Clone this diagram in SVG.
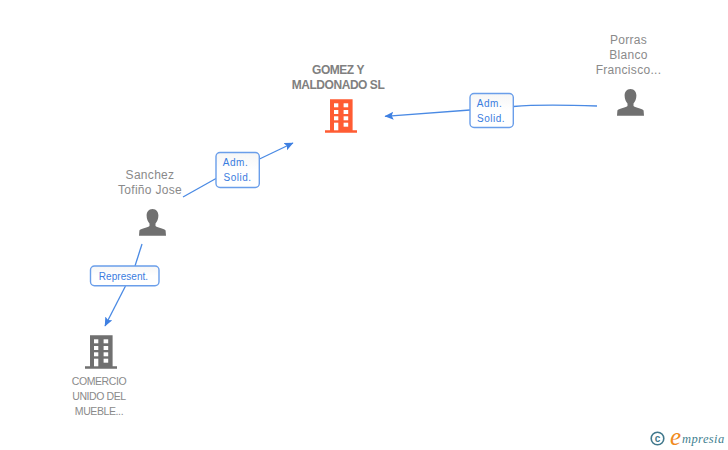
<svg xmlns="http://www.w3.org/2000/svg" width="728" height="450" viewBox="0 0 728 450">
<style>
text{font-family:"Liberation Sans",Arial,sans-serif}
.n{font-size:12px;fill:#8a8a8a;text-anchor:middle;letter-spacing:.3px}
.c{font-size:10.5px;fill:#8a8a8a;text-anchor:middle;letter-spacing:-.4px}
.t{font-size:12px;font-weight:bold;fill:#808080;text-anchor:middle;letter-spacing:-.45px}
.l{font-size:10px;fill:#3a7ce0;text-anchor:middle;letter-spacing:.5px}
.box{fill:url(#g);stroke:#6a9eea;stroke-width:1.4}
.ln{fill:none;stroke:#4a8ae4;stroke-width:1.3}
.p{fill:#707070}
.w{fill:#fff}
</style>
<defs>
<linearGradient id="g" x1="0" y1="0" x2="0" y2="1"><stop offset="0" stop-color="#f6f6f6"/><stop offset=".5" stop-color="#fff"/></linearGradient>
<marker id="a" markerWidth="10" markerHeight="10" refX="8.5" refY="4" orient="auto" markerUnits="userSpaceOnUse"><path d="M0 0L9 4L0 8L1.800 4Z" fill="#3f80e2"/></marker>
<g id="bld"><path d="M5 0H27.600V31H32V33.400H0V31H5Z"/><g class="w"><rect x="9" y="4" width="4.300" height="4"/><rect x="18.600" y="4" width="4.600" height="4"/><rect x="9" y="10.700" width="4.300" height="4"/><rect x="18.600" y="10.700" width="4.600" height="4"/><rect x="9" y="17" width="4.300" height="4"/><rect x="18.600" y="17" width="4.600" height="4"/><rect x="9" y="23.400" width="4.300" height="7.600"/><rect x="18.600" y="23.400" width="4.600" height="4"/></g></g>
<path id="per" d="M13.500 0C9.500 0 7.600 3 7.600 6.500C7.600 10 9 13 10.500 14.500V17C8 18.800 1.500 19.500 .4 21.500L0 26.800H27L26.600 21.500C25.500 19.500 19 18.800 16.500 17V14.500C18 13 19.400 10 19.400 6.500C19.400 3 17.500 0 13.500 0Z"/>
</defs>
<g id="connectors">
<path class="ln" d="M597 106C570 105 540 104 513.500 106.500"/>
<path class="ln" d="M470 110L385 116.300" marker-end="url(#a)"/>
<path class="ln" d="M183 197L216 178.500"/>
<path class="ln" d="M259.500 159L293 143" marker-end="url(#a)"/>
<path class="ln" d="M142 244L135 266"/>
<path class="ln" d="M125.500 286L105 326" marker-end="url(#a)"/>
</g>
<g id="node-gomez">
<text class="t" x="338" y="74">GOMEZ Y</text>
<text class="t" x="338" y="89">MALDONADO SL</text>
<use href="#bld" x="325" y="99.300" fill="#ff5c33"/>
</g>
<g id="node-porras">
<text class="n" x="628.500" y="44">Porras</text>
<text class="n" x="628.500" y="59">Blanco</text>
<text class="n" x="628.500" y="74">Francisco...</text>
<use href="#per" class="p" x="617" y="89"/>
</g>
<g id="node-sanchez">
<text class="n" x="150" y="179">Sanchez</text>
<text class="n" x="150" y="194">Tofiño Jose</text>
<use href="#per" class="p" x="139" y="209"/>
</g>
<g id="node-comercio">
<use href="#bld" x="85" y="335.300" fill="#707070"/>
<text class="c" x="99" y="385">COMERCIO</text>
<text class="c" x="99" y="400">UNIDO DEL</text>
<text class="c" x="99" y="415">MUEBLE...</text>
</g>
<g id="label-1">
<rect class="box" x="470" y="93.500" width="43.300" height="34" rx="4"/>
<text class="l" x="489.500" y="107">Adm.</text>
<text class="l" x="491" y="122">Solid.</text>
</g>
<g id="label-2">
<rect class="box" x="216" y="152.500" width="43.300" height="35" rx="4"/>
<text class="l" x="235.500" y="166">Adm.</text>
<text class="l" x="237.500" y="181">Solid.</text>
</g>
<g id="label-3">
<rect class="box" x="90.500" y="266" width="68.500" height="19.700" rx="4"/>
<text class="l" x="123.500" y="280" style="letter-spacing:.05px">Represent.</text>
</g>
<g id="logo">
<circle cx="657.500" cy="438.500" r="6.300" fill="none" stroke="#41788c" stroke-width="1.600"/>
<text x="657.500" y="442" font-size="10" font-weight="bold" fill="#41788c" text-anchor="middle">c</text>
<text x="670" y="445" font-size="25" font-style="italic" fill="#f08a1d" style="font-family:'Liberation Serif',serif">e</text>
<text x="682" y="443" font-size="12.500" font-style="italic" fill="#3f7f8f" style="font-family:'Liberation Serif',serif" letter-spacing=".4">mpresia</text>
</g>
</svg>
